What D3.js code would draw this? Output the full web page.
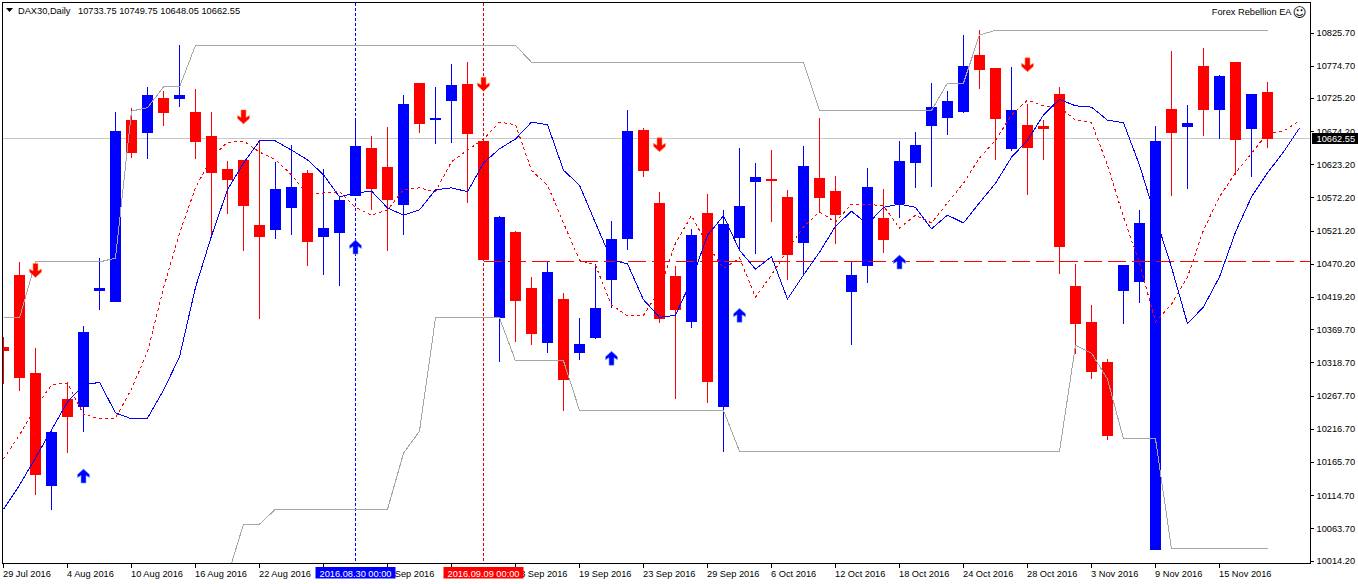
<!DOCTYPE html>
<html><head><meta charset="utf-8">
<style>html,body{margin:0;padding:0;background:#fff;overflow:hidden}svg{display:block}
text{font-family:"Liberation Sans",sans-serif;font-size:9.25px;fill:#000}</style>
<script src="https://cdn.jsdelivr.net/npm/d3@7/dist/d3.min.js"></script>
</head><body><svg id="c" width="1358" height="584"></svg>
<script>
const symbolTitle = "DAX30,Daily";
const ohlcTitle = "10733.75 10749.75 10648.05 10662.55";
const eaName = "Forex Rebellion EA";
const opens = [10342,10453,10302,10129,10262,10250,10428,10411,10691,10671,10725,10723,10703,10666,10616,10630,10530,10522,10556,10610,10511,10517,10574,10648,10619,10560,10748,10693,10720,10746,10659,10387,10519,10433,10348,10416,10333,10356,10445,10508,10676,10564,10451,10381,10548,10250,10510,10596,10600,10573,10502,10602,10582,10427,10467,10541,10562,10625,10682,10694,10703,10791,10771,10647,10684,10682,10731,10436,10381,10319,10428,10442,10030,10708,10680,10774,10706,10780,10677,10733.75];
const highs = [10358,10473,10341,10216,10285,10375,10479,10703,10710,10742,10736,10806,10739,10703,10628,10630,10659,10627,10653,10614,10616,10573,10690,10666,10680,10730,10748,10742,10777,10780,10659,10544,10521,10450,10474,10425,10387,10470,10536,10706,10679,10581,10467,10524,10577,10553,10648,10625,10645,10584,10651,10694,10605,10473,10617,10585,10659,10673,10748,10736,10822,10829,10771,10773,10716,10691,10742,10470,10407,10324,10468,10553,10682,10797,10714,10802,10760,10780,10731,10749.75];
const lows = [10285,10275,10115,10092,10179,10212,10399,10411,10633,10631,10682,10711,10631,10513,10547,10490,10385,10508,10514,10467,10453,10436,10574,10553,10490,10514,10671,10654,10656,10564,10476,10319,10350,10345,10333,10244,10322,10355,10402,10491,10604,10379,10262,10372,10256,10181,10490,10485,10534,10445,10453,10548,10501,10345,10441,10487,10541,10587,10588,10668,10702,10739,10630,10643,10576,10630,10454,10332,10293,10199,10378,10410,10030,10574,10585,10666,10662,10607,10604,10648.05];
const closes = [10336,10295,10145,10212,10235,10365,10433,10674,10640,10730,10702,10730,10657,10610,10599,10559,10511,10585,10588,10504,10525,10568,10651,10585,10568,10716,10685,10694,10745,10670,10476,10542,10413,10362,10458,10292,10347,10402,10508,10674,10613,10385,10399,10514,10288,10531,10559,10604,10597,10484,10620,10571,10545,10453,10588,10507,10628,10653,10711,10720,10774,10768,10693,10706,10648,10677,10496,10378,10304,10205,10468,10533,10659,10671,10687,10706,10759,10660,10731,10662.55];
const blueLine = [10093,10130,10172,10215,10258,10284,10288,10241,10232,10233,10276,10327,10434,10513,10584,10625,10659,10659,10645,10630,10607,10573,10579,10582,10556,10545,10553,10584,10587,10581,10625,10647,10662,10688,10684,10614,10591,10533,10476,10470,10415,10388,10391,10445,10514,10544,10491,10462,10481,10416,10453,10488,10528,10551,10531,10557,10562,10557,10524,10545,10533,10564,10594,10634,10660,10699,10723,10713,10711,10691,10687,10622,10542,10465,10378,10404,10450,10519,10573,10610,10642,10679];
const redLine = [10170,10207,10250,10284,10287,10239,10232,10233,10278,10335,10433,10517,10587,10633,10657,10659,10642,10630,10607,10577,10579,10581,10557,10545,10553,10584,10587,10581,10627,10645,10662,10688,10684,10614,10591,10533,10476,10468,10407,10390,10391,10430,10502,10544,10499,10463,10479,10419,10453,10491,10527,10550,10534,10562,10562,10559,10525,10545,10533,10564,10594,10633,10660,10699,10722,10713,10711,10691,10687,10622,10542,10471,10381,10408,10450,10522,10573,10610,10640,10671,10674,10690];
const upperBand = [10387,10387,10473,10473,10473,10473,10473,10479,10705,10710,10742,10742,10806,10806,10806,10806,10806,10806,10806,10806,10806,10806,10806,10806,10806,10806,10806,10806,10806,10806,10806,10806,10806,10780,10780,10780,10780,10780,10780,10780,10780,10780,10780,10780,10780,10780,10780,10780,10780,10780,10780,10706,10706,10706,10706,10706,10706,10706,10706,10748,10748,10822,10829,10829,10829,10829,10829,10829,10829,10829,10829,10829,10829,10829,10829,10829,10829,10829,10829,10829];
const lowerBand = [null,null,null,null,null,null,null,null,null,null,null,null,null,null,9990,10070,10070,10093,10093,10093,10093,10093,10093,10093,10093,10179,10213,10387,10387,10387,10387,10387,10321,10321,10321,10321,10245,10245,10245,10245,10245,10245,10245,10245,10245,10245,10182,10182,10182,10182,10182,10182,10182,10182,10182,10182,10182,10182,10182,10182,10182,10182,10182,10182,10182,10182,10182,10345,10333,10293,10201,10201,10201,10032,10032,10032,10032,10032,10032,10032];
const yTickValues = [10825.70,10774.70,10725.20,10674.20,10623.20,10572.20,10521.20,10470.20,10419.20,10369.70,10318.70,10267.70,10216.70,10165.70,10114.70,10063.70,10014.20];
const xTickIndex = [0,4,8,12,16,20,24,28,32,36,40,44,48,52,56,60,64,68,72,76];
// the labels of bars 20 and 28 lie fully under the two time markers
const xTickLabels = ["29 Jul 2016","4 Aug 2016","10 Aug 2016","16 Aug 2016","22 Aug 2016","","1 Sep 2016","","13 Sep 2016","19 Sep 2016","23 Sep 2016","29 Sep 2016","6 Oct 2016","12 Oct 2016","18 Oct 2016","24 Oct 2016","28 Oct 2016","3 Nov 2016","9 Nov 2016","15 Nov 2016"];
const upArrowBars = [5,22,38,46,56];
const upArrowPrices = [10144,10496,10325,10391,10473];
const downArrowBars = [2,15,30,41,64];
const downArrowPrices = [10460,10696,10746,10653,10776];
const levelPrice = 10474, levelStartBar = 30;
const blueMarkerBar = 22, blueMarkerLabel = "2016.08.30 00:00";
const redMarkerBar = 30, redMarkerLabel = "2016.09.09 00:00";
const lastPrice = 10662.55, lastPriceLabel = "10662.55";

const BLUE = "#0000ff", RED = "#ff0000", GREY = "#a6a6a6";
const plot = {l:2.5, r:1310.5, t:2.5, b:563.5};
const x = d3.scaleLinear().domain([0,79]).range([3.5,1267.5]);
const y = d3.scaleLinear().domain([10825.7,10014.2]).range([32.5,560.5]);
const svg = d3.select("#c");
svg.append("defs").append("clipPath").attr("id","plot").append("rect")
  .attr("x",plot.l+.5).attr("y",plot.t).attr("width",plot.r-plot.l).attr("height",plot.b-plot.t);
const g = svg.append("g").attr("clip-path","url(#plot)").attr("shape-rendering","crispEdges");

// bid line
const bidY = Math.floor(y(lastPrice))+.5;
g.append("line").attr("x1",plot.l).attr("x2",plot.r).attr("y1",bidY).attr("y2",bidY).attr("stroke","#c8c8c8");

// candles
const bars = d3.range(opens.length);
const col = i => closes[i] < opens[i] ? RED : BLUE;
g.append("g").selectAll("line").data(bars).join("line")
  .attr("x1",x).attr("x2",x).attr("y1",i=>y(highs[i])).attr("y2",i=>y(lows[i])).attr("stroke",col);
g.append("g").selectAll("rect").data(bars).join("rect")
  .attr("x",i=>x(i)-5.5).attr("width",11)
  .attr("y",i=>y(Math.max(opens[i],closes[i])))
  .attr("height",i=>Math.max(2,y(Math.min(opens[i],closes[i]))-y(Math.max(opens[i],closes[i]))))
  .attr("fill",col);

// drawn objects
const levelY = Math.floor(y(levelPrice))+.5;
g.append("line").attr("x1",x(levelStartBar)).attr("x2",plot.r).attr("y1",levelY).attr("y2",levelY)
  .attr("stroke",RED).attr("stroke-dasharray","18 6");
g.append("line").attr("x1",x(blueMarkerBar)).attr("x2",x(blueMarkerBar)).attr("y1",plot.t).attr("y2",plot.b)
  .attr("stroke",BLUE).attr("stroke-dasharray","3 2");
g.append("line").attr("x1",x(redMarkerBar)).attr("x2",x(redMarkerBar)).attr("y1",plot.t).attr("y2",plot.b)
  .attr("stroke","#e00000").attr("stroke-dasharray","3 2");

// indicator lines
const line = d3.line().defined(d=>d!=null).x((d,i)=>x(i)).y(d=>y(d));
g.append("path").attr("d",line(upperBand)).attr("fill","none").attr("stroke",GREY);
g.append("path").attr("d",line(lowerBand)).attr("fill","none").attr("stroke",GREY);
g.append("path").attr("d",line(redLine)).attr("fill","none").attr("stroke",RED).attr("stroke-dasharray","3 3");
g.append("path").attr("d",line(blueLine)).attr("fill","none").attr("stroke",BLUE);

// arrows
function arrow(s){ // s = 1 points down, s = -1 points up; centred on 0,0
  const p = d3.path();
  p.moveTo(0,7*s); p.lineTo(-6,1.5*s); p.lineTo(-6,-1.5*s); p.lineTo(-2.5,0.5*s); p.lineTo(-2.5,-7*s);
  p.lineTo(2.5,-7*s); p.lineTo(2.5,0.5*s); p.lineTo(6,-1.5*s); p.lineTo(6,1.5*s); p.closePath();
  return p.toString();
}
const ga = svg.append("g").attr("clip-path","url(#plot)");
ga.selectAll(".up").data(upArrowBars).join("path").attr("class","up")
  .attr("transform",(d,i)=>`translate(${x(d)},${y(upArrowPrices[i])})`).attr("d",arrow(-1))
  .attr("fill",BLUE).attr("stroke","#66aaff").attr("stroke-width",.6);
ga.selectAll(".down").data(downArrowBars).join("path").attr("class","down")
  .attr("transform",(d,i)=>`translate(${x(d)},${y(downArrowPrices[i])})`).attr("d",arrow(1))
  .attr("fill",RED).attr("stroke","#ff9944").attr("stroke-width",.6);

// frame
svg.append("path").attr("d",`M${plot.l},${plot.b}V${plot.t}H${plot.r}V${plot.b}Z`).attr("fill","none").attr("stroke","#000").attr("shape-rendering","crispEdges");

// y axis
const yAxis = d3.axisRight(y).tickValues(yTickValues).tickFormat(d3.format(".2f")).tickSize(3).tickPadding(3);
const ay = svg.append("g").attr("transform",`translate(${plot.r},0)`).call(yAxis);
ay.select(".domain").remove();
ay.selectAll("text").style("font-size","9.25px").style("font-family",'"Liberation Sans",sans-serif').attr("fill","#000");
ay.selectAll("line").attr("stroke","#000").attr("shape-rendering","crispEdges");

// x axis
const ax = svg.append("g");
ax.selectAll("line").data(xTickIndex).join("line").attr("x1",x).attr("x2",x).attr("y1",plot.b).attr("y2",plot.b+4)
  .attr("stroke","#000").attr("shape-rendering","crispEdges");
ax.selectAll("text").data(xTickIndex.filter((d,i)=>xTickLabels[i])).join("text").attr("x",d=>x(d)-.5).attr("y",576.5)
  .text(d=>xTickLabels[xTickIndex.indexOf(d)]);

// time markers on the axis
function marker(barIdx,label,fill){
  const c = x(barIdx);
  svg.append("rect").attr("x",c-40).attr("y",567).attr("width",80).attr("height",11.5).attr("fill",fill);
  svg.append("text").attr("x",c).attr("y",576.5).attr("text-anchor","middle").style("fill","#fff").text(label);
}
marker(blueMarkerBar,blueMarkerLabel,BLUE);
marker(redMarkerBar,redMarkerLabel,RED);

// last price
svg.append("rect").attr("x",1312).attr("y",Math.floor(y(lastPrice))-5).attr("width",46).attr("height",11).attr("fill","#000");
svg.append("text").attr("x",plot.r+6).attr("y",y(lastPrice)+3).style("fill","#fff").text(lastPriceLabel);

// title
svg.append("path").attr("d","M6,8H13L9.5,12Z").attr("fill","#000");
svg.append("text").attr("x",18).attr("y",14).text(symbolTitle);
svg.append("text").attr("x",78).attr("y",14).text(ohlcTitle);
svg.append("text").attr("x",1291.5).attr("y",15).attr("text-anchor","end").text(eaName);
svg.append("text").attr("x",1299.5).attr("y",17).attr("text-anchor","middle").style("font-family","'DejaVu Sans'").style("font-size","13.5px").text("\u263A");
</script></body></html>
